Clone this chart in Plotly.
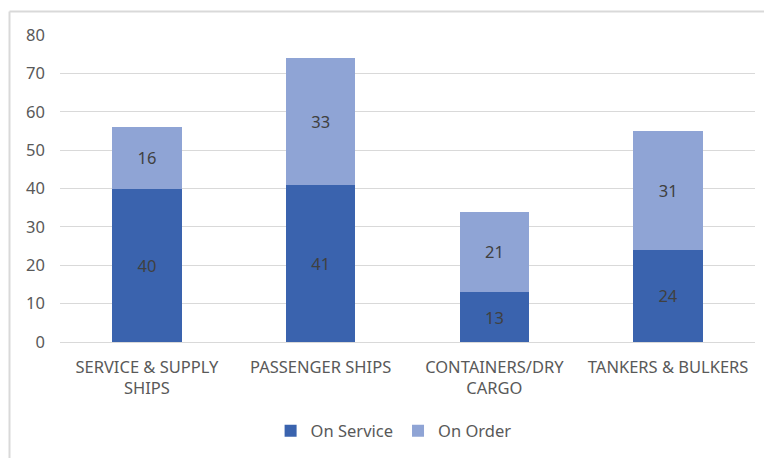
import plotly.graph_objects as go

categories = ["SERVICE & SUPPLY<br>SHIPS", "PASSENGER SHIPS", "CONTAINERS/DRY<br>CARGO", "TANKERS & BULKERS"]
on_service = [40, 41, 13, 24]
on_order = [16, 33, 21, 31]
y_ticks = [0, 10, 20, 30, 40, 50, 60, 70, 80]

W, H = 764, 458
L, R, T, B = 60, 9, 35, 116
pw, ph = W - L - R, H - T - B

FONT = "Noto Sans"
DARK = "#3A63AE"
LIGHT = "#8FA4D5"
FS = 16.5

fig = go.Figure()
fig.add_trace(go.Bar(
    x=categories, y=on_service, name="On Service", marker_color=DARK,
    marker_line_width=0,
    text=on_service, textposition="inside", insidetextanchor="middle",
    textfont=dict(color="#404040", size=FS, family=FONT),
))
fig.add_trace(go.Bar(
    x=categories, y=on_order, name="On Order", marker_color=LIGHT,
    marker_line_width=0,
    text=on_order, textposition="inside", insidetextanchor="middle",
    textfont=dict(color="#404040", size=FS, family=FONT),
))

# chart frame: top and left edges only
def px_x(x):
    return (x - L) / pw

def px_y(y):
    return (H - B - y) / ph

fig.add_shape(type="line", xref="paper", yref="paper",
              x0=px_x(9.5), x1=px_x(W + 5), y0=px_y(11.5), y1=px_y(11.5),
              line=dict(color="#D9D9D9", width=2))
fig.add_shape(type="line", xref="paper", yref="paper",
              x0=px_x(9.5), x1=px_x(9.5), y0=px_y(11.5), y1=px_y(H + 5),
              line=dict(color="#D9D9D9", width=2))

fig.update_layout(
    width=W, height=H,
    margin=dict(l=L, r=R, t=T, b=B),
    barmode="stack", bargap=0.6,
    plot_bgcolor="white", paper_bgcolor="white",
    font=dict(family=FONT, size=FS, color="#595959"),
    showlegend=True,
    legend=dict(orientation="h", x=0.48, xanchor="center", y=-0.29, yanchor="middle",
                font=dict(size=FS, color="#595959"), traceorder="normal",
                itemwidth=30, tracegroupgap=0),
    xaxis=dict(showgrid=False, showline=True, linecolor="#D9D9D9", linewidth=1,
               ticks="", ticklabelstandoff=10,
               tickfont=dict(size=FS, color="#595959")),
    yaxis=dict(range=[0, 80], tickvals=y_ticks, showgrid=True, gridcolor="#D9D9D9",
               gridwidth=1, zeroline=False, showline=False, ticks="",
               ticklabelstandoff=14,
               tickfont=dict(size=FS, color="#595959")),
)

fig.write_html("out.html")
